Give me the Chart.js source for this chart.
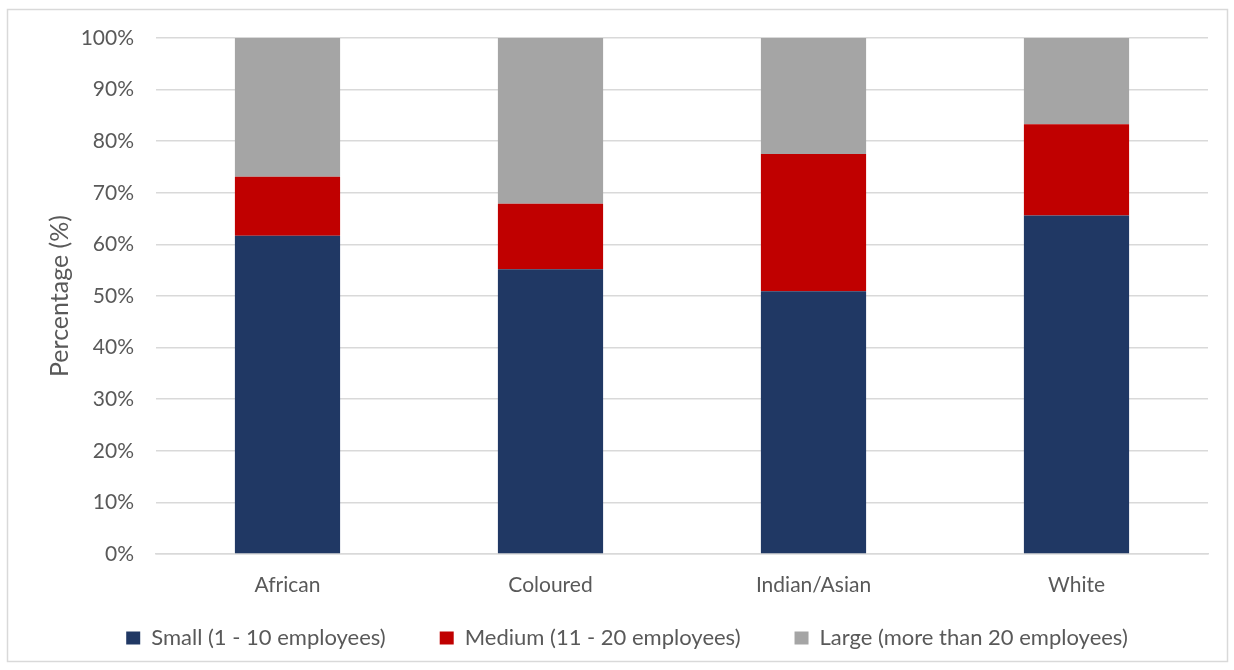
<!DOCTYPE html>
<html>
<head>
<meta charset="utf-8">
<script src="https://cdn.jsdelivr.net/npm/chart.js@4"></script>
<style>
  html, body { margin: 0; padding: 0; background: #ffffff; }
  #wrap { width: 1234px; height: 670px; }
</style>
</head>
<body>
<div id="wrap"><canvas id="sizeChart" width="1234" height="670"></canvas></div>
<script>
// Firm size share by population group
const categorias = ['African', 'Coloured', 'Indian/Asian', 'White'];
const pequenas = [61.7, 55.2, 50.9, 65.6];
const medianas = [11.4, 12.7, 26.6, 17.7];
const grandes = [26.9, 32.1, 22.5, 16.7];
const ticksY = [0, 10, 20, 30, 40, 50, 60, 70, 80, 90, 100];

const COLOR_TEXTO = '#595959';
const FUENTE = 'Lato, "Open Sans", sans-serif';
const TAM = 21;
const TAM_LEYENDA = 22;
const PAD_LEYENDA = 54;
const CENTRO_LEYENDA = 638;

// Marco gris alrededor del gráfico
const marco = {
  id: 'marco',
  beforeDraw(chart) {
    const ctx = chart.ctx;
    ctx.save();
    ctx.fillStyle = '#ffffff';
    ctx.fillRect(0, 0, chart.width, chart.height);
    ctx.strokeStyle = '#d9d9d9';
    ctx.lineWidth = 1.5;
    ctx.strokeRect(7.5, 9.5, 1220, 652);
    ctx.restore();
  }
};

// Sube la leyenda hasta su fila (y amplía su caja para que no se recorte)
const moverLeyenda = {
  id: 'moverLeyenda',
  afterLayout(chart) {
    const leyenda = chart.legend;
    if (!leyenda) return;
    leyenda.top = CENTRO_LEYENDA - PAD_LEYENDA - TAM_LEYENDA / 2;
    leyenda.bottom = chart.height;
    leyenda.height = leyenda.bottom - leyenda.top;
  }
};

const ctx = document.getElementById('sizeChart').getContext('2d');
new Chart(ctx, {
  type: 'bar',
  data: {
    labels: categorias,
    datasets: [
      { label: 'Small (1 - 10 employees)', data: pequenas, backgroundColor: '#203864' },
      { label: 'Medium (11 - 20 employees)', data: medianas, backgroundColor: '#c00000' },
      { label: 'Large (more than 20 employees)', data: grandes, backgroundColor: '#a5a5a5' }
    ]
  },
  options: {
    responsive: false,
    animation: false,
    devicePixelRatio: 1,
    datasets: {
      bar: { categoryPercentage: 1, barPercentage: 0.40, borderWidth: 0 }
    },
    layout: { padding: { top: 38, right: 0, bottom: 21, left: 20 } },
    plugins: {
      tooltip: { enabled: false },
      legend: {
        position: 'bottom',
        maxHeight: 40,
        labels: {
          color: COLOR_TEXTO,
          font: { family: FUENTE, size: TAM_LEYENDA },
          boxWidth: 14,
          boxHeight: 13,
          padding: PAD_LEYENDA
        }
      }
    },
    scales: {
      x: {
        stacked: true,
        grid: { display: false, drawTicks: false },
        border: { display: true, color: '#d9d9d9', width: 1.5 },
        ticks: { color: COLOR_TEXTO, font: { family: FUENTE, size: TAM }, padding: 19 },
        afterFit(scale) { scale.height = 55; }
      },
      y: {
        stacked: true,
        min: 0,
        max: 100,
        afterBuildTicks(scale) { scale.ticks = ticksY.map(v => ({ value: v })); },
        grid: { color: '#d9d9d9', lineWidth: 1.5, drawTicks: false },
        border: { display: false },
        ticks: {
          color: COLOR_TEXTO,
          font: { family: FUENTE, size: TAM },
          padding: 22,
          callback: v => v + '%'
        },
        title: {
          display: true,
          text: 'Percentage (%)',
          color: COLOR_TEXTO,
          font: { family: FUENTE, size: 25 },
          padding: { top: 25, bottom: 0 }
        },
        afterFit(scale) { scale.width = 136; }
      },
      // eje vacío a la derecha para dejar margen
      margen: {
        position: 'right',
        display: true,
        grid: { display: false, drawTicks: false },
        border: { display: false },
        ticks: { display: false },
        afterFit(scale) { scale.width = 26; }
      }
    }
  },
  plugins: [marco, moverLeyenda]
});
</script>
</body>
</html>
